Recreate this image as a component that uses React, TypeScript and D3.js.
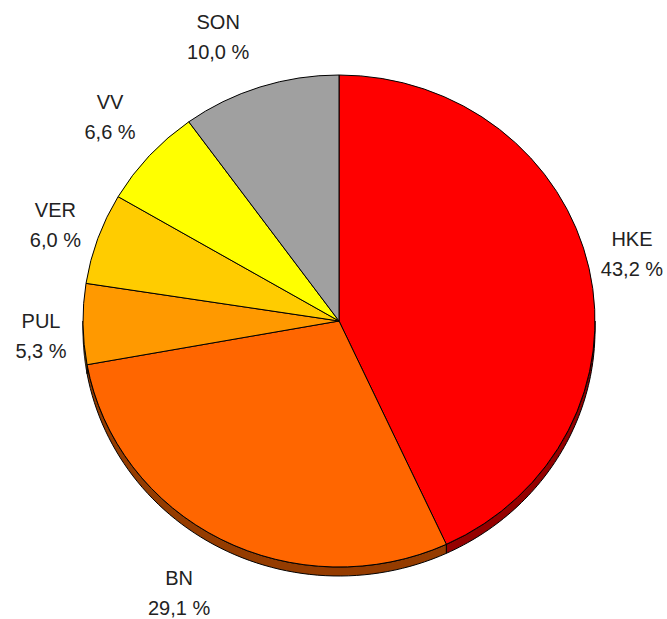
import React from "react";
import * as d3 from "d3";

const categories = ["HKE", "BN", "PUL", "VER", "VV", "SON"];
const values = [43.2, 29.1, 5.3, 6.0, 6.6, 10.0];
const valueLabels = ["43,2 %", "29,1 %", "5,3 %", "6,0 %", "6,6 %", "10,0 %"];
const colors = ["#FF0000", "#FF6600", "#FF9900", "#FFCC00", "#FFFF00", "#A0A0A0"];
// small layout nudges for label boxes (Excel-like placement)
const labelNudgeX = [-1, -21, 3, 0, -6, -28];
const labelNudgeY = [-7, 23, 11, -2, -15, -17];

const W = 667;
const H = 619;
const cx = 339;
const cy = 321;
const rx = 256;
const ry = 246;
const depth = 9;
const fontSize = 20;

function pt(a: number, dy = 0): [number, number] {
  return [cx + rx * Math.sin(a), cy - ry * Math.cos(a) + dy];
}

function slicePath(a0: number, a1: number) {
  const p0 = pt(a0);
  const p1 = pt(a1);
  const large = a1 - a0 > Math.PI ? 1 : 0;
  return `M${cx},${cy}L${p0[0]},${p0[1]}A${rx},${ry} 0 ${large} 1 ${p1[0]},${p1[1]}Z`;
}

function rimPath(a0: number, a1: number) {
  const s = Math.max(a0, Math.PI / 2);
  const e = Math.min(a1, (3 * Math.PI) / 2);
  if (e <= s) return null;
  const n = 60;
  const top: [number, number][] = [];
  const bot: [number, number][] = [];
  for (let i = 0; i <= n; i++) {
    const a = s + ((e - s) * i) / n;
    top.push(pt(a));
    bot.push(pt(a, depth));
  }
  const pts = top.concat(bot.reverse());
  return d3.line()(pts) + "Z";
}

export default function App() {
  const pie = d3
    .pie<number>()
    .sort(null)
    .startAngle(0)
    .endAngle(2 * Math.PI)
    .value((d) => d);
  const arcs = pie(values);

  return (
    <svg
      width={W}
      height={H}
      style={{ position: "absolute", left: 0, top: 0, background: "#fff" }}
      fontFamily="Arial, 'Liberation Sans', sans-serif"
    >
      <g>
        {arcs.map((a, i) => {
          const d = rimPath(a.startAngle, a.endAngle);
          if (!d) return null;
          const c = d3.color(colors[i])!.darker(1.5).formatHex();
          return <path key={"r" + i} d={d} fill={c} stroke="#000" strokeWidth={1} strokeLinejoin="round" />;
        })}
      </g>
      <g>
        {arcs.map((a, i) => (
          <path
            key={"s" + i}
            d={slicePath(a.startAngle, a.endAngle)}
            fill={colors[i]}
            stroke="#000"
            strokeWidth={1}
            strokeLinejoin="round"
          />
        ))}
      </g>
      <g fill="#222" fontSize={fontSize} textAnchor="middle">
        {arcs.map((a, i) => {
          const m = (a.startAngle + a.endAngle) / 2;
          const dx = Math.sin(m);
          const dy = -Math.cos(m);
          const pad = 12;
          const w = 66;
          const h = 46;
          const ax = cx + (rx + pad) * dx;
          const ay = cy + (ry + pad) * dy;
          const bx = ax + (dx * w) / 2 + labelNudgeX[i];
          const by = ay + (dy * h) / 2 + labelNudgeY[i];
          return (
            <text key={"t" + i} x={bx} y={by}>
              <tspan x={bx} dy={-8}>{categories[i]}</tspan>
              <tspan x={bx} dy={30}>{valueLabels[i]}</tspan>
            </text>
          );
        })}
      </g>
    </svg>
  );
}
